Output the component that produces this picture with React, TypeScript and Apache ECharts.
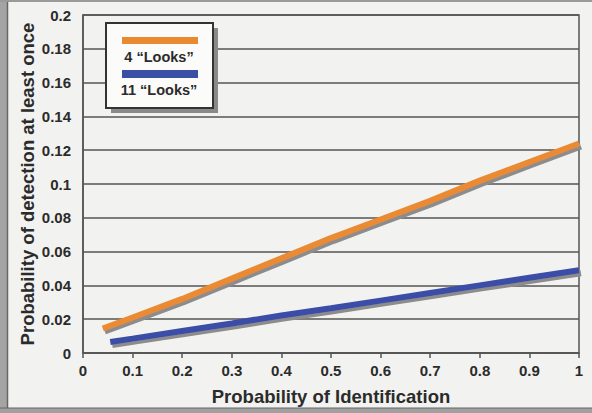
import React, { useEffect, useRef } from "react";
import * as echarts from "echarts";

const xOrange = [0.04, 0.1, 0.2, 0.3, 0.4, 0.5, 0.6, 0.7, 0.8, 0.9, 1.0];
const yOrange = [0.0145, 0.021, 0.032, 0.044, 0.056, 0.068, 0.079, 0.09, 0.102, 0.113, 0.124];
const xBlue = [0.055, 0.1, 0.2, 0.3, 0.4, 0.5, 0.6, 0.7, 0.8, 0.9, 1.0];
const yBlue = [0.0065, 0.0085, 0.013, 0.0175, 0.0222, 0.0265, 0.031, 0.0355, 0.04, 0.0445, 0.049];
const seriesNames = ["4 \u201cLooks\u201d", "11 \u201cLooks\u201d"];
const seriesColors = ["#ea8a30", "#3a4ea6"];
const xTitle = "Probability of Identification";
const yTitle = "Probability of detection at least once";

const FONT = "Arial, 'Liberation Sans', Helvetica, sans-serif";
const TEXT = "#2b2b2b";
const GRID = "#555555";

export default function App() {
  const ref = useRef<HTMLDivElement>(null);
  useEffect(() => {
    document.body.style.margin = "0";
    const chart = echarts.init(ref.current!, null, { renderer: "svg" });
    const mk = (xs: number[], ys: number[]) => xs.map((x, i) => [x, ys[i]]);
    const lineSeries = (name: string, color: string, data: number[][]) => ({
      type: "line",
      name,
      data,
      showSymbol: false,
      symbol: "none",
      smooth: false,
      lineStyle: {
        color,
        width: 6,
        cap: "butt",
        shadowColor: "#8c8c8c",
        shadowBlur: 1,
        shadowOffsetX: 2,
        shadowOffsetY: 3,
      },
      z: 3,
    });
    chart.setOption({
      animation: false,
      backgroundColor: "#f2f2f0",
      grid: {
        left: 83,
        right: 13,
        top: 15,
        bottom: 60,
        show: true,
        borderColor: GRID,
        borderWidth: 1.5,
        backgroundColor: "transparent",
      },
      xAxis: {
        type: "value",
        min: 0,
        max: 1,
        interval: 0.1,
        name: xTitle,
        nameLocation: "middle",
        nameGap: 34,
        nameTextStyle: { fontFamily: FONT, fontWeight: "bold", fontSize: 18.5, color: TEXT },
        axisLine: { show: true, lineStyle: { color: GRID, width: 1.5 } },
        axisTick: { show: true, length: 5, lineStyle: { color: GRID, width: 1.5 } },
        splitLine: { show: false },
        axisLabel: { fontFamily: FONT, fontWeight: "bold", fontSize: 15, color: TEXT, margin: 10 },
      },
      yAxis: {
        type: "value",
        min: 0,
        max: 0.2,
        interval: 0.02,
        name: yTitle,
        nameLocation: "middle",
        nameGap: 46,
        nameMoveOverlap: false,
        nameTextStyle: { fontFamily: FONT, fontWeight: "bold", fontSize: 18.5, color: TEXT },
        axisLine: { show: true, lineStyle: { color: GRID, width: 1.5 } },
        axisTick: { show: false },
        splitLine: { show: true, lineStyle: { color: GRID, width: 1.5 } },
        axisLabel: {
          fontFamily: FONT,
          fontWeight: "bold",
          fontSize: 15,
          color: TEXT,
          margin: 12,
          formatter: (v: number) => String(Math.round(v * 100) / 100),
        },
      },
      series: [
        lineSeries(seriesNames[0], seriesColors[0], mk(xOrange, yOrange)),
        lineSeries(seriesNames[1], seriesColors[1], mk(xBlue, yBlue)),
      ],
      graphic: [
        { type: "rect", shape: { x: 0, y: 0, width: 7, height: 413 }, style: { fill: "#a4a4a4" }, z: 10 },
        { type: "line", shape: { x1: 7.5, y1: 0, x2: 7.5, y2: 413 }, style: { stroke: "#666", lineWidth: 1.5 }, z: 10 },
        { type: "rect", shape: { x: 0, y: 0, width: 592, height: 2 }, style: { fill: "#9a9a9a" }, z: 10 },
        { type: "rect", shape: { x: 0, y: 408, width: 592, height: 5 }, style: { fill: "#a0a0a0" }, z: 10 },
        { type: "line", shape: { x1: 0, y1: 408, x2: 592, y2: 408 }, style: { stroke: "#666", lineWidth: 1 }, z: 10 },
        { type: "rect", shape: { x: 111, y: 28, width: 107, height: 85 }, style: { fill: "#8a8a8a" }, z: 20 },
        { type: "rect", shape: { x: 106, y: 23, width: 107, height: 85 }, style: { fill: "#fbfbfa", stroke: "#333", lineWidth: 2 }, z: 21 },
        { type: "rect", shape: { x: 122, y: 37, width: 76, height: 7 }, style: { fill: seriesColors[0] }, z: 22 },
        {
          type: "text",
          x: 159,
          y: 57,
          style: { text: seriesNames[0], fill: TEXT, font: `bold 14.5px ${FONT}`, align: "center", verticalAlign: "middle" },
          z: 22,
        },
        { type: "rect", shape: { x: 122, y: 70, width: 76, height: 8 }, style: { fill: seriesColors[1] }, z: 22 },
        {
          type: "text",
          x: 159,
          y: 90,
          style: { text: seriesNames[1], fill: TEXT, font: `bold 14.5px ${FONT}`, align: "center", verticalAlign: "middle" },
          z: 22,
        },
      ],
    });
    return () => chart.dispose();
  }, []);
  return <div ref={ref} style={{ width: 592, height: 413 }} />;
}
